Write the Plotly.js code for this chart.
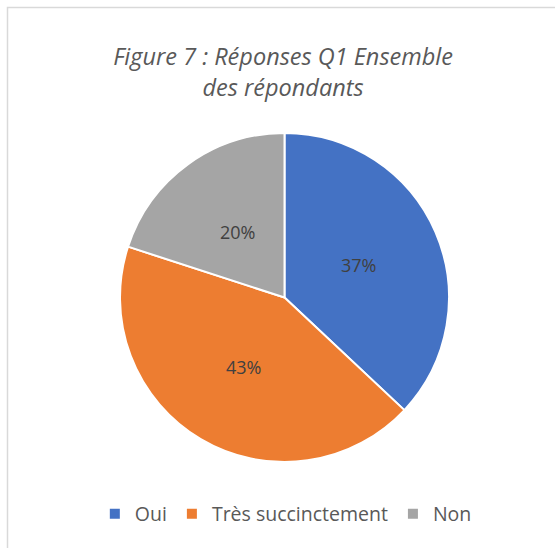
<!DOCTYPE html>
<html>
<head>
<meta charset="utf-8">
<script src="https://cdn.plot.ly/plotly-3.0.1.min.js"></script>
<style>html,body{margin:0;padding:0;background:#fff;}#chart{width:555px;height:548px;}</style>
</head>
<body>
<div id="chart"></div>
<script>
const categories = ["Oui", "Très succinctement", "Non"];
const values = [37, 43, 20];
const colors = ["#4472C4", "#ED7D31", "#A5A5A5"];
const titleText = "Figure 7 : Réponses Q1 Ensemble<br>des répondants";

const W = 555, H = 548;
const cx = 284.5, cy = 297.5, R = 164.5;

const trace = {
  type: "pie",
  labels: categories,
  values: values,
  sort: false,
  direction: "clockwise",
  rotation: 0,
  marker: {colors: colors, line: {color: "#ffffff", width: 2}},
  textinfo: "none",
  hoverinfo: "none",
  domain: {x: [(cx - R)/W, (cx + R)/W], y: [1 - (cy + R)/H, 1 - (cy - R)/H]}
};

// percentage labels placed at half radius on each slice's mid-angle
const total = values.reduce((a, b) => a + b, 0);
let cum = 0;
const annotations = values.map((v) => {
  const mid = (cum + v / 2) / total;
  cum += v;
  const ang = mid * 2 * Math.PI;
  const px = cx + 0.49 * R * Math.sin(ang);
  const py = cy - 0.49 * R * Math.cos(ang);
  return {
    xref: "paper", yref: "paper", x: px / W, y: 1 - py / H,
    xanchor: "center", yanchor: "middle", showarrow: false,
    text: Math.round(v / total * 100) + "%",
    font: {family: "Open Sans, sans-serif", size: 18, color: "#404040"}
  };
});

const layout = {
  width: W, height: H,
  margin: {l: 0, r: 0, t: 0, b: 0},
  paper_bgcolor: "#ffffff",
  font: {family: "Open Sans, sans-serif", color: "#595959"},
  title: {
    text: titleText,
    font: {family: "Open Sans, sans-serif", size: 23.5, color: "#595959", style: "italic"},
    x: 0.51, xanchor: "center", y: 1 - 65/548, yanchor: "middle", yref: "paper"
  },
  showlegend: true,
  legend: {
    orientation: "h", x: 0.515, xanchor: "center", y: 1 - 514/548, yanchor: "middle",
    font: {family: "Open Sans, sans-serif", size: 19.5, color: "#595959"},
    itemwidth: 30, traceorder: "normal"
  },
  annotations: annotations,
  shapes: [{
    type: "rect", xref: "paper", yref: "paper",
    x0: 7.5/555, x1: 1.05, y0: -0.05, y1: 1 - 7.5/548,
    line: {color: "#d9d9d9", width: 1.5}, fillcolor: "rgba(0,0,0,0)", layer: "below"
  }]
};

Plotly.newPlot("chart", [trace], layout, {displayModeBar: false, staticPlot: true});
</script>
</body>
</html>
